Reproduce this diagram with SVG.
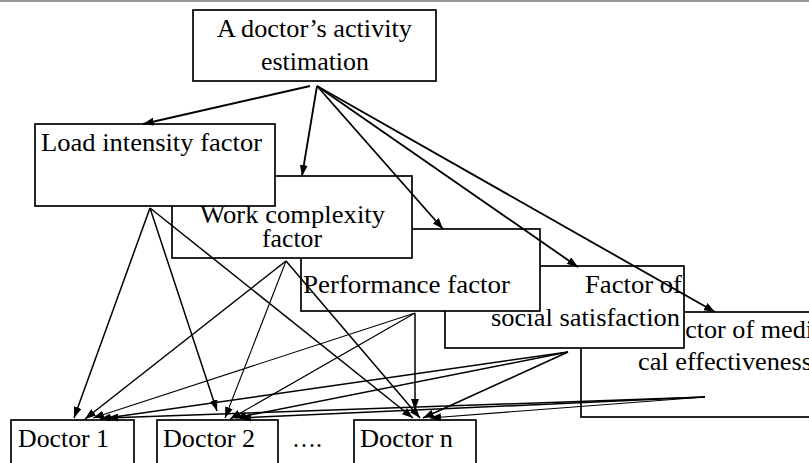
<svg xmlns="http://www.w3.org/2000/svg" width="809" height="463" viewBox="0 0 809 463">
<style>
.box{fill:#fff;stroke:#000;stroke-width:1.7}
.t{font-family:'Liberation Serif','Times New Roman',Times,serif;font-size:26px;fill:#000}
.c{fill:none;stroke:#000;stroke-width:1.5}
.thin{stroke-width:1.1}
.top{stroke-width:1.8}
</style>
<defs>
<marker id="ah" viewBox="0 0 11 8" refX="11" refY="4" markerWidth="11" markerHeight="8" markerUnits="userSpaceOnUse" orient="auto">
<path d="M0,0 L11,4 L0,8 z" fill="#000"/>
</marker>
</defs>
<rect x="0" y="0" width="809" height="2" fill="#9a9a9a"/>
<g id="root">
<rect class="box" x="193" y="10" width="243" height="71"/>
<text class="t" x="217" y="37" textLength="195" lengthAdjust="spacingAndGlyphs">A doctor’s activity</text>
<text class="t" x="261" y="70" textLength="108" lengthAdjust="spacingAndGlyphs">estimation</text>
</g>
<g id="medical">
<rect class="box" x="581" y="312" width="240" height="105"/>
<text class="t" x="659" y="338" textLength="154" lengthAdjust="spacingAndGlyphs">Factor of medi</text>
<text class="t" x="638" y="370" textLength="174" lengthAdjust="spacingAndGlyphs">cal effectiveness</text>
</g>
<g id="social">
<rect class="box" x="445" y="266" width="239" height="82"/>
<text class="t" x="585" y="293" textLength="97" lengthAdjust="spacingAndGlyphs">Factor of</text>
<text class="t" x="491" y="326" textLength="189" lengthAdjust="spacingAndGlyphs">social satisfaction</text>
</g>
<g id="performance">
<rect class="box" x="301" y="229" width="239" height="82"/>
<text class="t" x="303" y="293" textLength="207" lengthAdjust="spacingAndGlyphs">Performance factor</text>
</g>
<g id="work">
<rect class="box" x="172" y="176" width="240" height="82"/>
<text class="t" x="200" y="223" textLength="185" lengthAdjust="spacingAndGlyphs">Work complexity</text>
<text class="t" x="262" y="247" textLength="60" lengthAdjust="spacingAndGlyphs">factor</text>
</g>
<g id="load">
<rect class="box" x="35" y="124" width="240" height="82"/>
<text class="t" x="41" y="151" textLength="221" lengthAdjust="spacingAndGlyphs">Load intensity factor</text>
</g>
<g id="doctor1">
<rect class="box" x="11" y="420" width="123" height="60"/>
<text class="t" x="18" y="447" textLength="91" lengthAdjust="spacingAndGlyphs">Doctor 1</text>
</g>
<g id="doctor2">
<rect class="box" x="157" y="420" width="121" height="60"/>
<text class="t" x="163" y="447" textLength="92" lengthAdjust="spacingAndGlyphs">Doctor 2</text>
</g>
<g id="ellipsis">
<text class="t" x="292" y="447" textLength="30" lengthAdjust="spacingAndGlyphs">….</text>
</g>
<g id="doctorn">
<rect class="box" x="354" y="420" width="122" height="60"/>
<text class="t" x="360" y="447" textLength="93" lengthAdjust="spacingAndGlyphs">Doctor n</text>
</g>
<g id="connectors">
<line class="c top" x1="310" y1="86" x2="143" y2="124" marker-end="url(#ah)"/>
<line class="c top" x1="317" y1="86" x2="302" y2="176" marker-end="url(#ah)"/>
<line class="c top" x1="317" y1="86" x2="443" y2="229" marker-end="url(#ah)"/>
<line class="c top" x1="317" y1="86" x2="578" y2="267" marker-end="url(#ah)"/>
<line class="c top" x1="317" y1="86" x2="715" y2="312" marker-end="url(#ah)"/>
<line class="c" x1="150" y1="208" x2="74" y2="418" marker-end="url(#ah)"/>
<line class="c" x1="150" y1="208" x2="217" y2="411" marker-end="url(#ah)"/>
<line class="c" x1="150" y1="208" x2="413" y2="418" marker-end="url(#ah)"/>
<line class="c" x1="286" y1="261" x2="85" y2="419" marker-end="url(#ah)"/>
<line class="c thin" x1="286" y1="261" x2="225" y2="418" marker-end="url(#ah)"/>
<line class="c" x1="286" y1="261" x2="420" y2="418" marker-end="url(#ah)"/>
<line class="c thin" x1="415" y1="313" x2="93" y2="418" marker-end="url(#ah)"/>
<line class="c thin" x1="415" y1="313" x2="230" y2="419" marker-end="url(#ah)"/>
<line class="c" x1="415" y1="313" x2="415" y2="410" marker-end="url(#ah)"/>
<line class="c" x1="568" y1="352" x2="100" y2="419" marker-end="url(#ah)"/>
<line class="c" x1="568" y1="352" x2="235" y2="418" marker-end="url(#ah)"/>
<line class="c" x1="568" y1="352" x2="423" y2="418" marker-end="url(#ah)"/>
<line class="c" x1="705" y1="397" x2="107" y2="418" marker-end="url(#ah)"/>
<line class="c" x1="705" y1="397" x2="240" y2="418" marker-end="url(#ah)"/>
<line class="c thin" x1="705" y1="397" x2="430" y2="418" marker-end="url(#ah)"/>
</g>
</svg>
